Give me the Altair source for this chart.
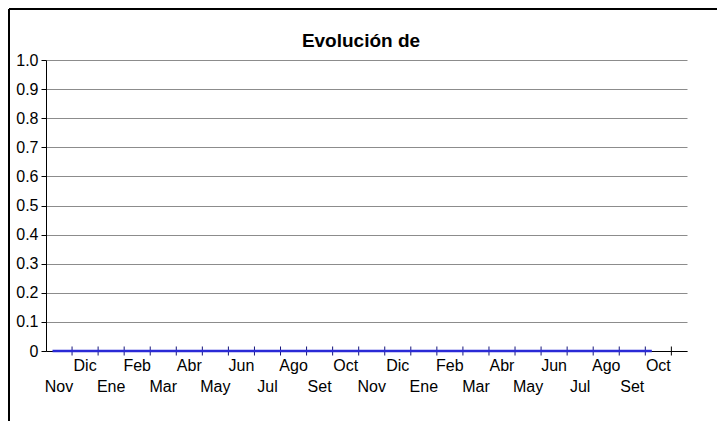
import altair as alt
import pandas as pd

# ---- data ----
title_text = "Evolución de"
months = ["Nov", "Dic", "Ene", "Feb", "Mar", "Abr", "May", "Jun", "Jul", "Ago", "Set", "Oct",
          "Nov", "Dic", "Ene", "Feb", "Mar", "Abr", "May", "Jun", "Jul", "Ago", "Set", "Oct"]
values = [0] * 24
y_ticks = [0.0, 0.1, 0.2, 0.3, 0.4, 0.5, 0.6, 0.7, 0.8, 0.9, 1.0]

FONT = "Liberation Sans"

series = pd.DataFrame({"pos": [i + 0.25 for i in range(len(values))], "value": values})
labels = pd.DataFrame({"pos": [i + 0.5 for i in range(len(months))],
                       "label": months,
                       "row": [i % 2 for i in range(len(months))]})
ticks = pd.DataFrame({"pos": list(range(1, len(months) + 1)), "value": [0] * len(months)})

xscale = alt.Scale(domain=[0, 24.6], nice=False, zero=False)
yscale = alt.Scale(domain=[0, 1], nice=False)

x_axis = alt.Axis(labels=False, ticks=False, grid=False, title=None,
                  domainColor="black", domainWidth=1)
y_axis = alt.Axis(values=y_ticks, title=None, grid=True, gridColor="#8c8c8c",
                  gridWidth=1, domainColor="black", tickColor="black", tickSize=5,
                  labelFont=FONT, labelFontSize=16, labelColor="black", labelPadding=3,
                  labelOverlap=False,
                  labelExpr="datum.value == 0 ? '0' : format(datum.value, '.1f')")

line = alt.Chart(series).mark_line(color="#2a2ad6", strokeWidth=2.5).encode(
    x=alt.X("pos:Q", scale=xscale, axis=x_axis),
    y=alt.Y("value:Q", scale=yscale, axis=y_axis),
)

tickmarks = alt.Chart(ticks).mark_tick(orient="vertical", size=9, thickness=1, opacity=1).encode(
    x=alt.X("pos:Q", scale=xscale, axis=x_axis),
    y=alt.Y("value:Q", scale=yscale, axis=y_axis),
    color=alt.condition("datum.pos <= 23", alt.value("#14147a"), alt.value("black")),
)

upper = alt.Chart(labels).transform_filter("datum.row == 1").mark_text(
    font=FONT, fontSize=16, color="black", baseline="middle", align="center").encode(
    x=alt.X("pos:Q", scale=xscale, axis=x_axis), y=alt.value(306), text="label:N")

lower = alt.Chart(labels).transform_filter("datum.row == 0").mark_text(
    font=FONT, fontSize=16, color="black", baseline="middle", align="center").encode(
    x=alt.X("pos:Q", scale=xscale, axis=x_axis), y=alt.value(327), text="label:N")

frame_data = alt.Data(values=[{"t": title_text}])
title = alt.Chart(frame_data).mark_text(
    font=FONT, fontSize=19, fontWeight="bold", color="black", baseline="alphabetic",
    align="center").encode(x=alt.value(315), y=alt.value(-13), text="t:N")
frame_top = alt.Chart(frame_data).mark_rule(color="black", strokeWidth=2).encode(
    x=alt.value(-37), x2=alt.value(700), y=alt.value(-51))
frame_left = alt.Chart(frame_data).mark_rule(color="black", strokeWidth=2).encode(
    x=alt.value(-37), y=alt.value(-51), y2=alt.value(400))

chart = alt.layer(tickmarks, line, upper, lower, title, frame_top, frame_left).properties(
    width=641, height=291,
    background="white",
    autosize=alt.AutoSizeParams(type="none"),
    padding={"left": 38, "top": 52, "right": 30, "bottom": 70},
).configure_view(stroke=None)

chart.save("out.html", embed_options={"renderer": "svg", "actions": False})
